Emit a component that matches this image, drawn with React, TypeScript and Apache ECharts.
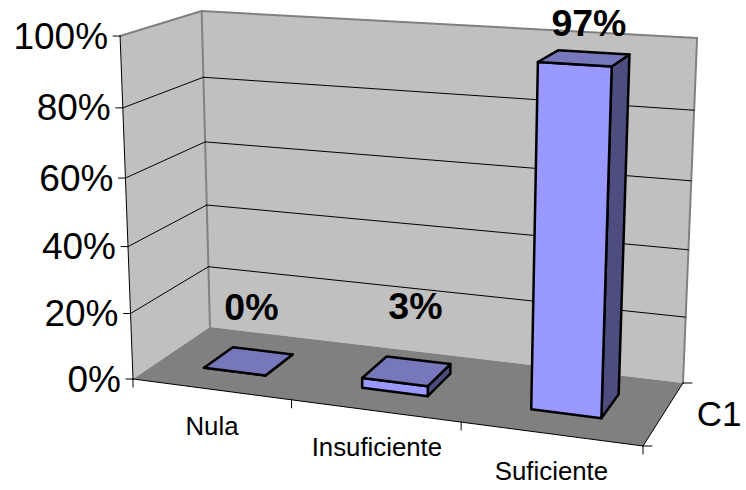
import React, { useEffect, useRef } from "react";
import * as echarts from "echarts";

const categories = ["Nula", "Insuficiente", "Suficiente"];
const values = [0, 3, 97];
const valueLabels = ["0%", "3%", "97%"];
const yTicks = [0, 20, 40, 60, 80, 100];
const seriesName = "C1";

type P = [number, number];
// Perspective frame of the box: floor quad (front-left, front-right, back-right, back-left)
const FLOOR: P[] = [[133, 379], [643, 446], [683, 383], [210, 327]];
const VANISH: P = [397, 7390]; // where the verticals meet
const HALF_W = 0.066;
const DEPTH: [number, number] = [0.31, 0.7];
const LABEL_OFFSET: P[] = [[3, -54], [9, -65], [5, -35]];
const FONT = "Liberation Sans, Arial, sans-serif";

function homography(q: P[]) {
  const [[x0, y0], [x1, y1], [x2, y2], [x3, y3]] = q;
  const dx1 = x1 - x2, dx2 = x3 - x2, sx = x0 - x1 + x2 - x3;
  const dy1 = y1 - y2, dy2 = y3 - y2, sy = y0 - y1 + y2 - y3;
  const den = dx1 * dy2 - dx2 * dy1;
  const g = (sx * dy2 - dx2 * sy) / den;
  const h = (dx1 * sy - sx * dy1) / den;
  const a = x1 - x0 + g * x1, b = x3 - x0 + h * x3, c = x0;
  const d = y1 - y0 + g * y1, e = y3 - y0 + h * y3, f = y0;
  return (u: number, v: number): P => {
    const w = g * u + h * v + 1;
    return [(a * u + b * v + c) / w, (d * u + e * v + f) / w];
  };
}
const floorH = homography(FLOOR);

// s: 0..1 along the categories, d: 0..1 depth, t: 0..1 height
function project(s: number, d: number, t: number): P {
  const f = floorH(s, d);
  const height = 344 + 0.52 * (f[1] - 381);
  const cx = f[0] + ((f[0] - VANISH[0]) / (VANISH[1] - f[1])) * height;
  const cy = f[1] - height;
  const k = t / (t + (1 - t) * 1.06);
  return [f[0] + (cx - f[0]) * k, f[1] + (cy - f[1]) * k];
}

const BOX = { left: 100, top: 100, width: 500, height: 300 };

// Turn axis pixels into box coordinates, so that every mark goes through the axes
function toBox(api: any, cat: number, val: number): [number, number] {
  const pt = api.coord([cat, val]);
  return [(pt[0] - BOX.left) / BOX.width, (BOX.top + BOX.height - pt[1]) / BOX.height];
}

const poly = (points: P[], fill: string, stroke?: string, lineWidth = 0) => ({
  type: "polygon",
  shape: { points },
  style: { fill, stroke: stroke || "none", lineWidth, lineJoin: "round" },
});
const line = (a: P, b: P, stroke: string, lineWidth = 1) => ({
  type: "line",
  shape: { x1: a[0], y1: a[1], x2: b[0], y2: b[1] },
  style: { stroke, lineWidth, lineCap: "round" },
});
const text = (t: string, x: number, y: number, size: number, align: string, bold = false) => ({
  type: "text",
  style: {
    text: t, x, y, fill: "#000", align, verticalAlign: "middle",
    fontSize: size, fontFamily: FONT, fontWeight: bold ? "bold" : "normal",
  },
});

function renderBox() {
  const A = project(0, 0, 0), B = project(1, 0, 0), C = project(1, 1, 0), D = project(0, 1, 0);
  const E = project(0, 0, 1), G = project(1, 1, 1), F = project(0, 1, 1);
  const ticks = [0, 1 / 3, 2 / 3, 1].map((s) => {
    const p = project(s, 0, 0);
    return line(p, [p[0], p[1] + 8], "#000");
  });
  return {
    type: "group",
    children: [
      poly([E, F, D, A], "#C0C0C0"),
      poly([F, G, C, D], "#C0C0C0"),
      poly([A, B, C, D], "#808080"),
      line(F, G, "#808080", 2),
      line(G, C, "#808080", 2),
      line(E, F, "#808080", 2),
      line(F, D, "#808080", 2),
      line(E, A, "#000", 1),
      line(A, B, "#000", 1),
      line(B, C, "#000", 1),
      line(B, [B[0] + 9, B[1]], "#000"),
      line(C, [C[0] + 9, C[1]], "#000"),
      ...ticks,
      text(seriesName, 719, 413, 35, "center"),
    ],
  };
}

function renderTick(params: any, api: any) {
  const [, t] = toBox(api, 0, api.value(1));
  const front = project(0, 0, t), back = project(0, 1, t), right = project(1, 1, t);
  const children: any[] = [
    line([front[0] - 7, front[1]], front, "#000"),
    text(`${api.value(1)}%`, front[0] - 12, front[1], 37, "right"),
  ];
  if (t > 0 && t < 1) {
    children.push(line(front, back, "#000"), line(back, right, "#000"));
  }
  return { type: "group", children };
}

function renderBar(params: any, api: any) {
  const i = api.value(0);
  const [s] = toBox(api, i, 0);
  const [, t] = toBox(api, i, api.value(1));
  const s0 = s - HALF_W, s1 = s + HALF_W;
  const [d0, d1] = DEPTH;
  const stroke = "#000";
  const lw = 2.5;
  const fb0 = project(s0, d0, 0), fb1 = project(s1, d0, 0);
  const ft0 = project(s0, d0, t), ft1 = project(s1, d0, t);
  const bb1 = project(s1, d1, 0), bt1 = project(s1, d1, t), bt0 = project(s0, d1, t);
  const centre = project(s, 0.5, t);
  const off = LABEL_OFFSET[i];
  return {
    type: "group",
    children: [
      poly([fb1, bb1, bt1, ft1], "#4D4D80", stroke, lw),
      poly([fb0, fb1, ft1, ft0], "#9999FF", stroke, lw),
      poly([ft0, ft1, bt1, bt0], "#7777BB", stroke, lw),
      text(valueLabels[i], centre[0] + off[0], centre[1] + off[1], 37.5, "center", true),
    ],
  };
}

function renderCategory(params: any, api: any) {
  const i = api.value(0);
  const [s] = toBox(api, i, 0);
  const p = project(s, 0, 0);
  return text(categories[i], p[0] + (i === 1 ? 2 : 1), p[1] + (i === 1 ? 36 : 37), 25.8, "center");
}

export default function App() {
  const ref = useRef<HTMLDivElement>(null);
  useEffect(() => {
    const chart = echarts.init(ref.current!, null, { renderer: "svg" });
    chart.setOption({
      animation: false,
      backgroundColor: "#fff",
      grid: { left: BOX.left, top: BOX.top, width: BOX.width, height: BOX.height },
      xAxis: { type: "category", data: categories, show: false },
      yAxis: { type: "value", min: 0, max: 100, interval: 20, show: false },
      series: [
        { type: "custom", name: "box", silent: true, z: 1, renderItem: renderBox, data: [[0, 0]] },
        { type: "custom", name: "ticks", silent: true, z: 2, renderItem: renderTick, data: yTicks.map((v) => [0, v]) },
        { type: "custom", name: "categories", silent: true, z: 3, renderItem: renderCategory, data: categories.map((c, i) => [i, 0]) },
        { type: "custom", name: seriesName, silent: true, z: 4, renderItem: renderBar, data: values.map((v, i) => [i, v]) },
      ],
    });
    return () => chart.dispose();
  }, []);
  return <div ref={ref} style={{ position: "fixed", left: 0, top: 0, width: 746, height: 490 }} />;
}
